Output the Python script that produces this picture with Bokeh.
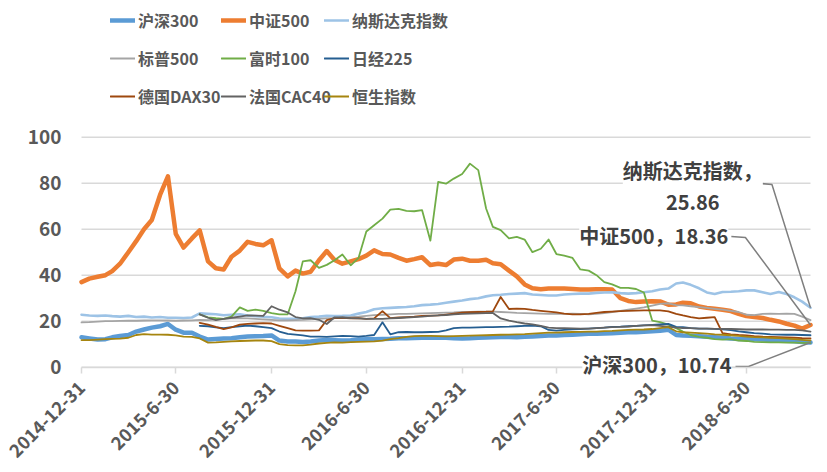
import calendar
from datetime import date
from math import pi

from bokeh.plotting import figure
from bokeh.models import Range1d, FixedTicker, Legend, LegendItem, Label, CustomJSTickFormatter
from bokeh.embed import file_html
from bokeh.resources import INLINE

# ---------------- data ----------------
# semi-monthly observation dates (15th and month end), 2014-12-31 .. 2018-10-31
dates = [date(2014, 12, 31)]
for yy in range(2015, 2019):
    for mm in range(1, 13):
        if yy == 2018 and mm > 10:
            break
        dates.append(date(yy, mm, 15))
        dates.append(date(yy, mm, calendar.monthrange(yy, mm)[1]))

hs300 = [13, 12.5, 12, 12.2, 13, 13.6, 14, 15.5, 16.4, 17.2,
         17.8, 18.8, 16.3, 15, 15, 13.3, 12, 12.3, 12.5, 12.6,
         13, 13.3, 13.5, 13.6, 13.8, 11.6, 11.2, 11.2, 11, 11.2,
         11.6, 11.8, 11.7, 11.6, 11.7, 12, 12.2, 12.2, 12.3, 12.4,
         12.6, 12.6, 12.7, 12.8, 12.8, 12.8, 12.8, 12.6, 12.5, 12.6,
         12.8, 12.9, 13, 13.1, 13.1, 13, 13.2, 13.4, 13.6, 13.8,
         13.8, 14, 14.1, 14.3, 14.5, 14.5, 14.6, 14.8, 15, 15.2,
         15.2, 15.4, 15.6, 15.8, 16.3, 14, 13.8, 13.7, 13.5, 13.2,
         13, 12.8, 12.5, 12.3, 12.3, 12.1, 12, 11.8, 11.7, 11.5,
         11.3, 11, 10.74]

csi500 = [37, 38.5, 39.3, 40, 41.8, 45, 50, 54.8, 60, 64,
          75, 83, 58, 52, 56, 59.5, 46, 43, 42.5, 48,
          50.7, 54.5, 53.6, 53, 55.2, 43, 39.5, 42, 40.7, 41.5,
          46.5, 50.5, 46.6, 45, 46, 47, 48.5, 50.8, 49.2, 49,
          47.5, 46.3, 47, 47.8, 44.4, 45, 44.4, 46.8, 47.2, 46.3,
          46.3, 46.7, 45.2, 44.8, 42, 39.5, 36, 34.3, 33.9, 34.2,
          34.2, 34.2, 34, 33.8, 33.8, 33.9, 33.9, 33.8, 30, 28.8,
          28.3, 28.6, 28.7, 28.6, 27.2, 27.3, 28, 27.8, 26.4, 25.8,
          25.4, 25, 24.4, 23.2, 22.2, 21.8, 21.4, 20.6, 19.9, 18.9,
          18.1, 16.8, 18.36]

nasdaq = [22.8, 22.5, 22.3, 22.5, 22.2, 22, 22.3, 21.8, 22, 21.6,
          21.8, 21.5, 21.5, 21.4, 21.6, 23.4, 23.2, 23, 22.6, 22.8,
          23, 22.5, 22.2, 21.9, 21.7, 21.2, 21, 21, 21.3, 21.8,
          22, 22.3, 22.2, 22.3, 22.5, 23.3, 24, 25.2, 25.6, 25.8,
          26, 26.2, 26.5, 27, 27.2, 27.5, 28, 28.5, 29, 29.6,
          30, 30.8, 31.3, 31.5, 31.8, 32, 32.2, 31.6, 31.4, 31.2,
          31.2, 31.6, 31.8, 32, 32, 32.3, 32.5, 32.6, 32.2, 32,
          32.2, 32.6, 33, 33.8, 34.2, 36.4, 36.8, 35.8, 34.3, 32.5,
          31.8, 32.7, 32.8, 33, 33.4, 33.4, 32.6, 31.8, 32.7, 31.8,
          30.4, 28.5, 25.86]

sp500 = [19.5, 19.6, 19.8, 20, 20, 20.1, 20.2, 20.2, 20.3, 20.4,
         20.4, 20.3, 20.2, 20.3, 20.4, 20.6, 20.5, 20.8, 21, 21.2,
         21.3, 21.2, 21, 20.8, 20.6, 20.4, 20.4, 20.5, 20.6, 20.8,
         21, 21.2, 21.3, 21.5, 21.8, 22, 22.3, 22.6, 22.8, 23,
         23.2, 23.2, 23.3, 23.4, 23.5, 23.6, 23.7, 23.8, 24, 24,
         24.1, 24.2, 24.2, 24, 23.8, 23.6, 23.5, 23.4, 23.3, 23.2,
         23.2, 23.2, 23.3, 23.2, 23, 23.2, 23.5, 24, 24.5, 25,
         25.5, 26, 26.8, 27.5, 27.8, 27, 26.9, 26.5, 26.1, 25.8,
         25.4, 25, 24.5, 24, 22.8, 22.6, 23.2, 23.3, 23.2, 23.3,
         23.2, 22, 20.5]

# the next four series begin on 2015-08-15
ftse100 = [23, 21.7, 21.3, 21, 22, 26, 24.5, 25, 24.5, 23.5,
           23, 23, 33, 46, 46.5, 43.2, 44.5, 46.5, 49, 44.3,
           47.5, 59, 61.7, 64.6, 68.5, 68.8, 68, 67.8, 68.3, 55,
           80.6, 79.8, 82, 84, 88.5, 85.7, 69, 61, 59.6, 56,
           56.7, 55.5, 50, 51.5, 55.5, 49.2, 48.5, 47.5, 42.5, 42,
           40, 37, 36, 34.5, 34.5, 34, 32.5, 20.3, 19.6, 18.5,
           17, 15.5, 14, 13.2, 12.8, 12.2, 12, 12.2, 11.6, 11.4,
           11, 10.9, 10.8, 10.8, 10.7, 10.7, 10.6, 10.5]

nikkei225 = [18, 17.8, 17.3, 17, 17.4, 17.8, 18.1, 17.8, 17.4, 17,
             15.5, 14.5, 14.2, 13.8, 13.3, 13.3, 13.2, 13.4, 13.6, 13.5,
             13.3, 13.6, 14, 19.5, 14.3, 15.2, 15.3, 15.2, 15.2, 15.3,
             15.4, 16, 17, 17.2, 17.2, 17.3, 17.4, 17.4, 17.5, 17.6,
             17.8, 18, 18.1, 17.8, 16.2, 15.9, 16.2, 16.5, 16.6, 16.8,
             17, 17.2, 17.5, 17.6, 17.8, 18, 18.2, 18.4, 18.6, 18.8,
             17.5, 17.4, 17, 16.8, 16.8, 16.7, 16.5, 16.1, 15.6, 15.2,
             14.8, 14.6, 14.3, 14.2, 14.1, 14.1, 14, 13.9]

dax30 = [19.3, 18.5, 17.5, 16.6, 17.3, 18.5, 18.8, 19, 19.2, 19,
         18, 17, 16, 15.9, 15.9, 16, 20.5, 21.3, 21.5, 21.2,
         21.3, 21, 21.2, 24.4, 21.3, 21.6, 21.8, 22, 22.3, 22.4,
         22.5, 22.9, 23.3, 23.7, 23.9, 24, 24.1, 24.3, 30.5, 25.3,
         25.5, 25.4, 24.9, 24.5, 24.2, 23.8, 23.3, 23, 23, 23.2,
         23.6, 24, 24.2, 24.4, 24.5, 24.6, 24.7, 24.7, 24.7, 24.3,
         23.2, 22.5, 21.8, 21.2, 21.5, 21.8, 14.8, 14.3, 14, 13.8,
         13.5, 13.3, 13.2, 13.1, 13, 12.8, 12.6, 12.5]

cac40 = [23, 21.5, 20.5, 21, 21.5, 22, 22.5, 22.4, 22.3, 26.5,
         25, 23.8, 21.8, 21.2, 21.3, 20.6, 18.8, 21.7, 21.6, 21.3,
         21.2, 21, 21, 21, 21.2, 21.4, 21.6, 21.8, 22, 22.3,
         22.5, 22.7, 23, 23.2, 23.3, 23.4, 23.5, 23.6, 21.2, 20.3,
         19.6, 19, 18.6, 18, 17.2, 17, 17, 16.9, 16.8, 16.8,
         17, 17.2, 17.4, 17.5, 17.7, 18, 18.2, 18.3, 18, 17.6,
         17.2, 17, 17, 16.8, 16.8, 16.7, 16.7, 16.6, 16.5, 16.4,
         16.4, 16.4, 16.3, 16.3, 16.2, 16.2, 16, 15.5]

hsi = [11.8, 11.8, 12, 12.2, 12.3, 12.4, 12.8, 14, 14.4, 14.2,
       14.2, 14.1, 13.8, 13.3, 13.2, 12.5, 10.7, 10.8, 11, 11.2,
       11.4, 11.5, 11.6, 11.6, 11.3, 10, 9.6, 9.5, 9.5, 9.8,
       10.3, 10.6, 10.8, 10.7, 10.9, 11, 11.1, 11.2, 11.6, 12.2,
       12.6, 13.2, 13.5, 13.6, 13.6, 13.5, 13.4, 13.5, 13.6, 13.7,
       13.8, 13.9, 14, 14.1, 14.2, 14.3, 14.4, 14.6, 14.8, 15,
       15, 15.2, 15.3, 15.4, 15.5, 15.5, 15.7, 15.8, 16, 16.2,
       16.3, 16.4, 16.6, 17, 17.4, 15.6, 15.2, 15, 14.8, 14.6,
       14.3, 14.1, 13.9, 13.6, 13.3, 13.1, 13, 12.8, 12.6, 12.4,
       12.2, 11.9, 11.6]

series_names = ["沪深300", "中证500", "纳斯达克指数", "标普500", "富时100",
                "日经225", "德国DAX30", "法国CAC40", "恒生指数"]
series_values = [hs300, csi500, nasdaq, sp500, ftse100, nikkei225, dax30, cac40, hsi]

tick_dates = [date(2014, 12, 31), date(2015, 6, 30), date(2015, 12, 31), date(2016, 6, 30),
              date(2016, 12, 31), date(2017, 6, 30), date(2017, 12, 31), date(2018, 6, 30)]
y_ticks = [0, 20, 40, 60, 80, 100]

# ---------------- styling ----------------
colors = ["#5B9BD5", "#ED7D31", "#9DC3E6", "#A5A5A5", "#70AD47",
          "#255E91", "#9E480E", "#636363", "#A6850F"]
widths = [4.5, 4.5, 2.6, 1.8, 1.8, 1.8, 1.8, 1.8, 1.8]
FONT = "Noto Sans CJK SC"
TXT = "#595959"
GRID = "#D9D9D9"


def ms(d):
    return calendar.timegm(d.timetuple()) * 1000.0


xs_all = [ms(d) for d in dates]
x0, x1 = xs_all[0], xs_all[-1]

W, H = 819, 464
# plot area (in canvas px): x from 81 to 810, value 100 at y=136.7 and 0 at y=366.7
PL, PR = 81, 810
per_px = (x1 - x0) / (PR - PL)
y_per_px = 100 / 230.0
x_range = Range1d(x0 - PL * per_px, x1 + (W - PR) * per_px)
y_range = Range1d(0 - (H - 366.7) * y_per_px, 100 + 136.7 * y_per_px)

p = figure(width=W, height=H, output_backend="svg", toolbar_location=None,
           x_range=x_range, y_range=y_range,
           min_border_left=0, min_border_right=0, min_border_top=0, min_border_bottom=0)
p.outline_line_color = None
p.background_fill_color = "white"
p.border_fill_color = "white"

# horizontal gridlines over the plot area only
p.xgrid.visible = False
p.ygrid.visible = False
p.segment(x0=[x0] * len(y_ticks), x1=[x1] * len(y_ticks), y0=y_ticks, y1=y_ticks,
          line_color=GRID, line_width=1.5)

renderers = {}
for name, vals, col, w in zip(series_names, series_values, colors, widths):
    xs = xs_all[len(xs_all) - len(vals):]
    r = p.line(xs, vals, line_color=col, line_width=w, line_join="round", line_cap="round")
    renderers[name] = r

# value axis, fixed at the first date
p.yaxis.fixed_location = x0
p.yaxis.ticker = FixedTicker(ticks=y_ticks)
p.yaxis.axis_line_color = None
p.yaxis.major_tick_line_color = None
p.yaxis.minor_tick_line_color = None
p.yaxis.major_tick_out = 0
p.yaxis.major_tick_in = 0
p.yaxis.major_label_standoff = 20
p.yaxis.major_label_text_font = FONT
p.yaxis.major_label_text_font_size = "19px"
p.yaxis.major_label_text_font_style = "bold"
p.yaxis.major_label_text_color = TXT

# date axis, fixed at 0
p.xaxis.fixed_location = 0
p.xaxis.bounds = (x0, x1)
p.xaxis.ticker = FixedTicker(ticks=[ms(d) for d in tick_dates])
p.xaxis.formatter = CustomJSTickFormatter(code="""
const d = new Date(tick);
return d.getUTCFullYear() + '-' + (d.getUTCMonth() + 1) + '-' + d.getUTCDate();
""")
p.xaxis.major_label_orientation = pi / 4
p.xaxis.axis_line_color = GRID
p.xaxis.axis_line_width = 1.5
p.xaxis.major_tick_line_color = GRID
p.xaxis.major_tick_line_width = 1.5
p.xaxis.major_tick_out = 6
p.xaxis.major_tick_in = 0
p.xaxis.minor_tick_line_color = None
p.xaxis.major_label_standoff = 11
p.xaxis.major_label_text_font = FONT
p.xaxis.major_label_text_font_size = "18px"
p.xaxis.major_label_text_font_style = "bold"
p.xaxis.major_label_text_color = TXT

# legend: three columns, row-major reading order
legend_cols = [["沪深300", "标普500", "德国DAX30"],
               ["中证500", "富时100", "法国CAC40"],
               ["纳斯达克指数", "日经225", "恒生指数"]]
col_x = [110, 221, 324]
for cx, names in zip(col_x, legend_cols):
    leg = Legend(items=[LegendItem(label=n, renderers=[renderers[n]]) for n in names],
                 location=(cx, H - 109), orientation="vertical", padding=0, margin=0,
                 spacing=12, glyph_width=25, glyph_height=26, label_height=26,
                 label_standoff=3, label_text_font=FONT, label_text_font_size="16px",
                 label_text_font_style="bold", label_text_color=TXT,
                 border_line_color=None, background_fill_alpha=0)
    p.add_layout(leg)

# leader lines (drawn under the labels)
LEAD = "#7F7F7F"
p.line([ms(date(2018, 7, 26)), ms(date(2018, 8, 18)), x1], [79.9, 79.4, nasdaq[-1]],
       line_color=LEAD, line_width=1.5)
p.line([ms(date(2018, 6, 1)), ms(date(2018, 6, 28)), x1], [56.8, 56.4, csi500[-1]],
       line_color=LEAD, line_width=1.5)
p.line([ms(date(2018, 6, 9)), ms(date(2018, 7, 4)), x1], [0.3, 0.3, hs300[-1]],
       line_color=LEAD, line_width=1.5)

# data labels
LBL = "#404040"


def lab(d, yv, text):
    p.add_layout(Label(x=ms(d), y=yv, text=text, text_align="center", text_baseline="middle",
                       text_font=FONT, text_font_size="20px", text_font_style="bold",
                       text_color=LBL, background_fill_color="white", padding=0))


lab(date(2018, 3, 19), 85.5, "纳斯达克指数，")
lab(date(2018, 3, 19), 71.6, "25.86")
lab(date(2018, 1, 3), 57.3, "中证500，18.36")
lab(date(2018, 1, 9), 1.0, "沪深300，10.74")

open("out.html", "w").write(file_html(p, INLINE))
